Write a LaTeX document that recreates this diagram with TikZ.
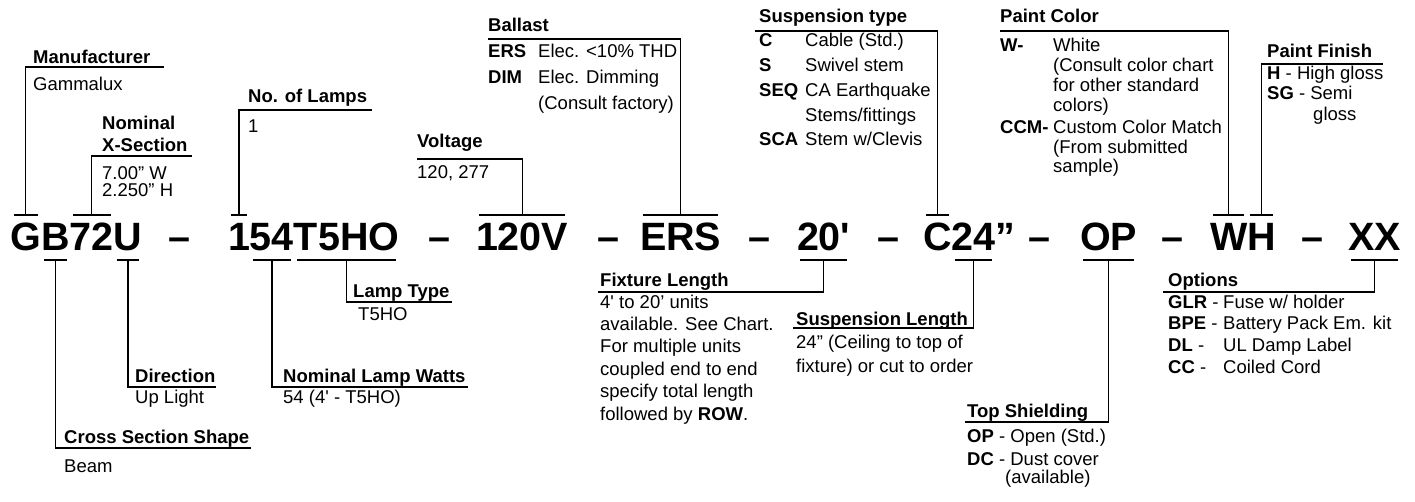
\documentclass[tikz,border=0pt]{standalone}
\usepackage{fontspec}
\newfontfamily\hv{Liberation Sans}
\usetikzlibrary{positioning}

\begin{document}
\begin{tikzpicture}[x=1pt,y=-1pt,
    cd/.style={font=\hv\bfseries\fontsize{39.5}{40}\selectfont,inner sep=0pt,outer sep=0pt,anchor=base west},
    hd/.style={font=\hv\bfseries\fontsize{18.5}{#1}\selectfont,inner sep=0pt,anchor=base west,align=left},
    hd/.default=20,
    tx/.style={font=\hv\fontsize{18.5}{#1}\selectfont,inner sep=0pt,anchor=base west,align=left},
    tx/.default=20,
    ln/.style={line width=1.2pt},
    tk/.style={ln,shorten <=3pt,shorten >=3pt}]
    \useasboundingbox (0,0) rectangle (1415,502);
    \coordinate (top) at (0,215);
    \coordinate (bot) at (0,260);
    % catalogue number
    \node[cd] (cG) at (10.5,251) {G};
    \node[cd] (cB) at (cG.base east) {B};
    \node[cd] (c72) at (cB.base east) {72};
    \node[cd] (cU) at (c72.base east) {U};
    \node[cd] (d1) at (168,251) {–};
    \node[cd] (c1) at (228,251) {1};
    \node[cd] (c54) at (c1.base east) {54};
    \node[cd] (cT5) at (c54.base east) {T5HO};
    \node[cd] (d2) at (428,251) {–};
    \node[cd] (cV) at (476,251) {120V};
    \node[cd] (d3) at (597,251) {–};
    \node[cd] (cE) at (640,251) {ERS};
    \node[cd] (d4) at (748,251) {–};
    \node[cd] (cL) at (797,251) {20'};
    \node[cd] (d5) at (877,251) {–};
    \node[cd] (cC) at (923,251) {C};
    \node[cd] (c24) at (cC.base east) {24};
    \node[cd] (cQ) at (c24.base east) {”};
    \node[cd] (d6) at (1028,251) {–};
    \node[cd] (cO) at (1080,251) {OP};
    \node[cd] (d7) at (1161,251) {–};
    \node[cd] (cW) at (1210,251) {W};
    \node[cd] (cH) at (cW.base east) {H};
    \node[cd] (d8) at (1301,251) {–};
    \node[cd] (cX) at (1348,251) {XX};
    \foreach \n in {cG,c72,c1,cV,cE,cC,cW,cH} \draw[tk] (\n.west |- top) -- (\n.east |- top);
    \foreach \n in {cB,cU,c54,cT5,cL,c24,cO,cX} \draw[tk] (\n.west |- bot) -- (\n.east |- bot);
    % upper labels (multi-line nodes sit on their last line)
    \node[hd] (hMan) at (33,64) {Manufacturer};
    \node[tx] (tMan) at (33,91) {Gammalux};
    \draw[ln] (cG |- top) |- ([shift={(13pt,-3pt)}]hMan.base east);
    \node[hd=22] (hNom) at (102,152) {Nominal\\X-Section};
    \node[tx=17] (tNom) at (102,197) {7.00” W\\2.250” H};
    \draw[ln] (c72 |- top) |- ([shift={(4pt,-4pt)}]hNom.base east);
    \node[hd] (hLmp) at (248,103) {No. of Lamps};
    \node[tx] (tLmp) at (248,133) {1};
    \draw[ln] (c1 |- top) |- ([shift={(5pt,-7pt)}]hLmp.base east);
    \node[hd] (hVol) at (417,148) {Voltage};
    \node[tx] (tVol) at (417,179) {120, 277};
    \draw[ln] (cV |- top) |- ([yshift=-11pt]hVol.base west);
    \node[hd] (hBal) at (488,32) {Ballast};
    \node[tx=26] (kBal) at (488,84) {\textbf{ERS}\\\textbf{DIM}};
    \node[tx=26] (tBal) at (538,110) {Elec. <10\% THD\\Elec. Dimming\\(Consult factory)};
    \draw[ln] (cE |- top) |- ([yshift=-7pt]hBal.base west);
    \node[hd] (hSus) at (759,23) {Suspension type};
    \node[tx=24.7] (kSus) at (759,145.8) {\textbf{C}\\\textbf{S}\\\textbf{SEQ}\\\mbox{}\\\textbf{SCA}};
    \node[tx=24.7] (tSus) at (805,145.8) {Cable (Std.)\\Swivel stem\\CA Earthquake\\Stems/fittings\\Stem w/Clevis};
    \draw[ln] (cC |- top) |- ([shift={(-4pt,-8pt)}]hSus.base west);
    \node[hd] (hPC) at (1000,23) {Paint Color};
    \node[tx] (kPC1) at (1000,52) {\textbf{W-}};
    \node[tx] (tPC1) at (1053,112) {White\\(Consult color chart\\for other standard\\colors)};
    \node[tx] (kPC2) at (1000,134) {\textbf{CCM-}};
    \node[tx=19.5] (tPC2) at (1053,173) {Custom Color Match\\(From submitted\\sample)};
    \draw[ln] (cW |- top) |- ([yshift=-8pt]hPC.base west);
    \node[hd] (hPF) at (1267,58) {Paint Finish};
    \node[tx] (tPF) at (1267,100) {\textbf{H} - High gloss\\\textbf{SG} - Semi};
    \node[tx] (tPF2) at (1313,121) {gloss};
    \draw[ln] (cH |- top) |- ([shift={(11pt,-6pt)}]hPF.base east);
    % lower labels
    \node[hd] (hLT) at (353,298) {Lamp Type};
    \node[tx] (tLT) at (358,320) {T5HO};
    \draw[ln] (cT5 |- bot) |- ([shift={(2pt,-4pt)}]hLT.base east);
    \node[hd] (hDir) at (135,382) {Direction};
    \node[tx] (tDir) at (135,403) {Up Light};
    \draw[ln] (cU |- bot) |- ([yshift=-5pt]hDir.base east);
    \node[hd] (hNLW) at (283,382) {Nominal Lamp Watts};
    \node[tx] (tNLW) at (283,403) {54 (4' - T5HO)};
    \draw[ln] (c54 |- bot) |- ([shift={(2pt,-5pt)}]hNLW.base east);
    \node[hd] (hCSS) at (64,443) {Cross Section Shape};
    \node[tx] (tCSS) at (64,472) {Beam};
    \draw[ln] (cB |- bot) |- ([shift={(2pt,-5pt)}]hCSS.base east);
    \node[hd] (hFL) at (600,287) {Fixture Length};
    \node[tx=22.4] (tFL) at (600,420) {4' to 20’ units\\available. See Chart.\\For multiple units\\coupled end to end\\specify total length\\followed by \textbf{ROW}.};
    \draw[ln] (cL |- bot) |- ([shift={(-2pt,-5pt)}]hFL.base west);
    \node[hd] (hSL) at (796,325) {Suspension Length};
    \node[tx=24] (tSL) at (796,372) {24” (Ceiling to top of\\fixture) or cut to order};
    \draw[ln] (c24 |- bot) |- ([shift={(-3pt,-3pt)}]hSL.base west);
    \node[hd] (hTS) at (967,417) {Top Shielding};
    \node[tx] (tTS1) at (967,442) {\textbf{OP} - Open (Std.)};
    \node[tx] (tTS2) at (967,465) {\textbf{DC} - Dust cover};
    \node[tx] (tTS3) at (1005,483) {(available)};
    \draw[ln] (cO |- bot) |- ([shift={(-2pt,-5pt)}]hTS.base west);
    \node[hd] (hOpt) at (1168,287) {Options};
    \node[tx=21.7] (kOpt) at (1168,373.1) {\textbf{GLR} -\\\textbf{BPE} -\\\textbf{DL} -\\\textbf{CC} -};
    \node[tx=21.7] (tOpt) at (1223,373.1) {Fuse w/ holder\\Battery Pack Em. kit\\UL Damp Label\\Coiled Cord};
    \draw[ln] (cX |- bot) |- ([shift={(-5pt,-5pt)}]hOpt.base west);
\end{tikzpicture}
\end{document}
